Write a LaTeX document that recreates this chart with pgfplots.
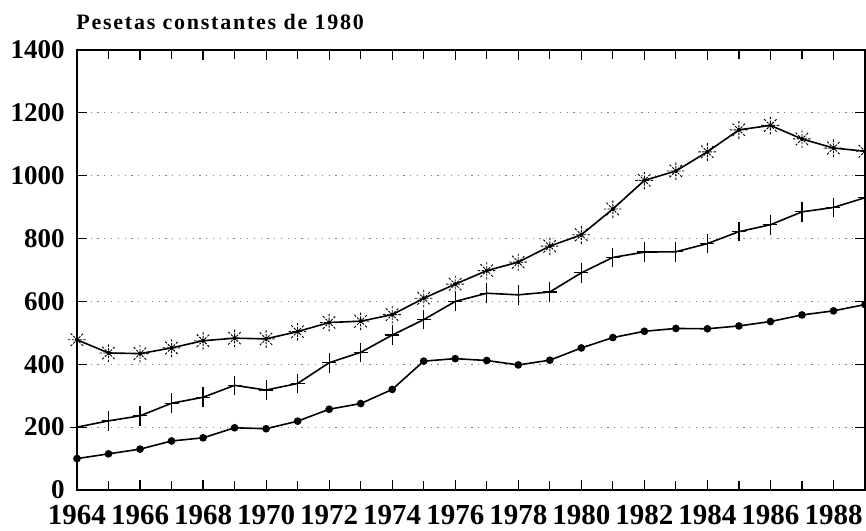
\documentclass[border=0pt]{standalone}
\usepackage{fontspec}
\setmainfont{Liberation Serif}
\usepackage{pgfplots}
\pgfplotsset{compat=1.18}
\usepackage{pgfplotstable}

\pgfdeclareplotmark{burst}{%
  \pgfsetlinewidth{0.45pt}%
  \pgfsetdash{{1.2pt}{0.7pt}}{0pt}%
  \pgfpathmoveto{\pgfqpoint{-\pgfplotmarksize}{0pt}}\pgfpathlineto{\pgfqpoint{\pgfplotmarksize}{0pt}}%
  \pgfpathmoveto{\pgfqpoint{0pt}{-\pgfplotmarksize}}\pgfpathlineto{\pgfqpoint{0pt}{\pgfplotmarksize}}%
  \pgfpathmoveto{\pgfqpoint{-.707\pgfplotmarksize}{-.707\pgfplotmarksize}}\pgfpathlineto{\pgfqpoint{.707\pgfplotmarksize}{.707\pgfplotmarksize}}%
  \pgfpathmoveto{\pgfqpoint{-.707\pgfplotmarksize}{.707\pgfplotmarksize}}\pgfpathlineto{\pgfqpoint{.707\pgfplotmarksize}{-.707\pgfplotmarksize}}%
  \pgfusepathqstroke
  \pgfsetdash{}{0pt}%
  \pgfpathcircle{\pgfpointorigin}{1.1pt}%
  \pgfusepathqfill
}
\pgfdeclareplotmark{tallplus}{%
  \pgfsetlinewidth{0.6pt}%
  \pgfpathmoveto{\pgfqpoint{0pt}{-1.4\pgfplotmarksize}}\pgfpathlineto{\pgfqpoint{0pt}{1.4\pgfplotmarksize}}%
  \pgfpathmoveto{\pgfqpoint{-\pgfplotmarksize}{0pt}}\pgfpathlineto{\pgfqpoint{\pgfplotmarksize}{0pt}}%
  \pgfusepathqstroke
}

\pgfplotstableread{
year circ plus star
1964 100 200 478
1965 115 220 436
1966 130 236 434
1967 156 276 452
1968 166 295 475
1969 198 333 483
1970 195 318 481
1971 219 339 504
1972 257 405 533
1973 275 438 537
1974 320 493 558
1975 410 542 610
1976 418 600 655
1977 412 626 698
1978 398 621 725
1979 413 630 776
1980 452 691 812
1981 485 740 894
1982 505 757 985
1983 514 758 1015
1984 513 784 1076
1985 522 822 1146
1986 536 844 1160
1987 557 885 1117
1988 570 899 1088
1989 590 930 1078
}\datatable

\begin{document}
\begin{tikzpicture}
\begin{axis}[
  at={(0,0)}, anchor=south west,
  scale only axis,
  width=394pt, height=220pt,
  xmin=1964, xmax=1989,
  ymin=0, ymax=1400,
  clip=false,
  xtick={1964,1966,...,1988},
  minor xtick={1965,1967,...,1989},
  ytick={0,200,...,1400},
  tick align=inside,
  major tick length=5pt,
  minor tick length=4.5pt,
  tick style={black, line width=0.6pt},
  axis line style={line width=0.8pt},
  ymajorgrids,
  grid style={gray, line width=0.5pt, dash pattern=on 0.6pt off 2.8pt},
  /pgf/number format/assume math mode=true,
  /pgf/number format/1000 sep={},
  yticklabel style={font=\fontsize{13.5}{15}\selectfont\bfseries, anchor=east, inner sep=0pt, xshift=-6pt},
  xticklabel style={font=\fontsize{14.5}{16}\selectfont\bfseries, anchor=north, inner sep=0pt, yshift=-7.5pt},
]
\addplot[black, line width=0.8pt, mark=burst, mark size=4.5pt] table[x=year, y=star] {\datatable};
\addplot[black, line width=0.8pt, mark=tallplus, mark size=3.5pt] table[x=year, y=plus] {\datatable};
\addplot[black, line width=0.8pt, mark=*, mark size=1.5pt] table[x=year, y=circ] {\datatable};
\node[anchor=base west, inner sep=0pt, font=\fontsize{11}{13}\selectfont\bfseries\addfontfeatures{LetterSpace=8}]
  at (rel axis cs:0,1) [yshift=10pt, xshift=-0.5pt] {Pesetas constantes de 1980};
\end{axis}
\pgfresetboundingbox
\path (-38.5pt,-20pt) rectangle (394.5pt,245pt);
\end{tikzpicture}
\end{document}
